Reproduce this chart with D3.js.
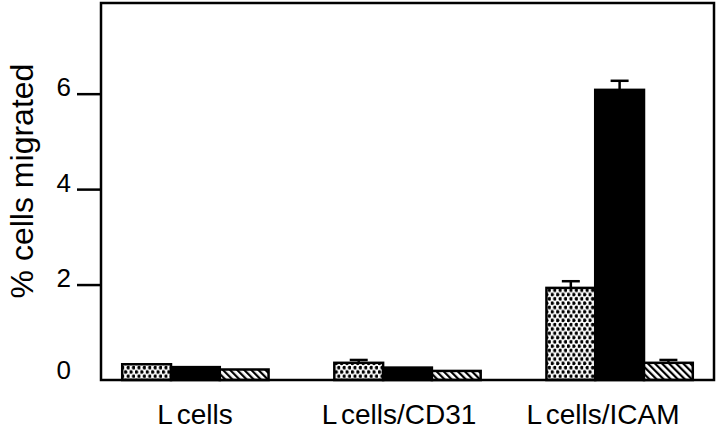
<!DOCTYPE html>
<html>
<head>
<meta charset="utf-8">
<script src="https://cdn.jsdelivr.net/npm/d3@7"></script>
<style>
  body { margin: 0; background: #fff; overflow: hidden; }
  svg { display: block; }
  text { font-family: "Liberation Sans", Arial, Helvetica, sans-serif; fill: #000; }
</style>
</head>
<body>
<svg width="720" height="431"></svg>
<script>
// groups along x, three treatments per group
var groups = ["L cells", "L cells/CD31", "L cells/ICAM"]
var series = ["dots", "solid", "hatch"]

// % cells migrated
var dots  = [0.33, 0.36, 1.93]
var solid = [0.27, 0.26, 6.08]
var hatch = [0.22, 0.19, 0.36]

// upward error bars (0 = none visible)
var dotsErr  = [0, 0.06, 0.14]
var solidErr = [0, 0, 0.19]
var hatchErr = [0, 0, 0.06]

var yTicks = [0, 2, 4, 6]

var svg = d3.select("svg"),
	plotL = 101, plotR = 714, plotT = 3, plotB = 380

var values = { dots: dots, solid: solid, hatch: hatch }
var errs = { dots: dotsErr, solid: solidErr, hatch: hatchErr }

var y = d3.scaleLinear().domain([0, 7.9]).range([plotB, plotT])

var x0 = d3.scaleBand().domain(groups).range([plotL, plotR])
	.paddingInner(0.31).paddingOuter(0.1)
var x1 = d3.scaleBand().domain(series).range([0, x0.bandwidth()])

// label centres sit a bit left of the bar groups in the original
var xl = d3.scalePoint().domain(groups).range([195, 603])

// patterns
var defs = svg.append("defs")
var pd = defs.append("pattern").attr("id", "dots")
	.attr("patternUnits", "userSpaceOnUse").attr("width", 5.4).attr("height", 8.6)
pd.append("rect").attr("width", 5.4).attr("height", 8.6).attr("fill", "#fff")
pd.append("circle").attr("cx", 1.35).attr("cy", 2.15).attr("r", 1.8).attr("fill", "#000")
pd.append("circle").attr("cx", 4.05).attr("cy", 6.45).attr("r", 1.8).attr("fill", "#000")

var ph = defs.append("pattern").attr("id", "hatch")
	.attr("patternUnits", "userSpaceOnUse").attr("width", 5).attr("height", 5)
	.attr("patternTransform", "rotate(-45)")
ph.append("rect").attr("width", 5).attr("height", 5).attr("fill", "#fff")
ph.append("rect").attr("width", 2.2).attr("height", 5).attr("fill", "#000")

var fills = { dots: "url(#dots)", solid: "#000", hatch: "url(#hatch)" }

// bars
var cells = []
groups.forEach(function(g, i) {
	series.forEach(function(s) {
		cells.push({ g: g, s: s, v: values[s][i], e: errs[s][i] })
	})
})

svg.selectAll("rect.bar").data(cells).enter().append("rect")
	.attr("class", "bar")
	.attr("x", function(d) { return x0(d.g) + x1(d.s) })
	.attr("y", function(d) { return y(d.v) })
	.attr("width", x1.bandwidth())
	.attr("height", function(d) { return plotB - y(d.v) })
	.attr("fill", function(d) { return fills[d.s] })
	.attr("stroke", "#000")
	.attr("stroke-width", 2.5)

// error bars
var eb = svg.selectAll("g.err").data(cells.filter(function(d) { return d.e > 0 }))
	.enter().append("g").attr("class", "err")
	.attr("stroke", "#000").attr("stroke-width", 2.5)
eb.append("line")
	.attr("x1", function(d) { return x0(d.g) + x1(d.s) + x1.bandwidth() / 2 })
	.attr("x2", function(d) { return x0(d.g) + x1(d.s) + x1.bandwidth() / 2 })
	.attr("y1", function(d) { return y(d.v) })
	.attr("y2", function(d) { return y(d.v + d.e) })
eb.append("line")
	.attr("x1", function(d) { return x0(d.g) + x1(d.s) + x1.bandwidth() / 2 - 9 })
	.attr("x2", function(d) { return x0(d.g) + x1(d.s) + x1.bandwidth() / 2 + 9 })
	.attr("y1", function(d) { return y(d.v + d.e) })
	.attr("y2", function(d) { return y(d.v + d.e) })

// frame
svg.append("rect")
	.attr("x", plotL).attr("y", plotT)
	.attr("width", plotR - plotL).attr("height", plotB - plotT)
	.attr("fill", "none").attr("stroke", "#000").attr("stroke-width", 2.5)

// y axis
var ya = svg.append("g").attr("transform", "translate(" + plotL + ",0)")
	.call(d3.axisLeft(y).tickValues(yTicks).tickSize(24).tickPadding(6))
ya.select(".domain").remove()
ya.selectAll(".tick line").attr("stroke-width", 2.5)
	.filter(function(d) { return d === 0 }).remove()
ya.selectAll(".tick text")
	.attr("font-size", 26).attr("dy", function(d) { return d === 0 ? "-0.05em" : "0.08em" })
	.style("font-family", "'Liberation Sans', Arial, sans-serif")

// y title
svg.append("text")
	.attr("transform", "translate(33,181) rotate(-90)")
	.attr("text-anchor", "middle")
	.attr("font-size", 32)
	.text("% cells migrated")

// x labels
svg.selectAll("text.xl").data(groups).enter().append("text")
	.attr("class", "xl")
	.attr("x", function(d) { return xl(d) })
	.attr("y", 424)
	.attr("text-anchor", "middle")
	.attr("font-size", 28)
	.attr("word-spacing", -3)
	.text(function(d) { return d })
</script>
</body>
</html>
